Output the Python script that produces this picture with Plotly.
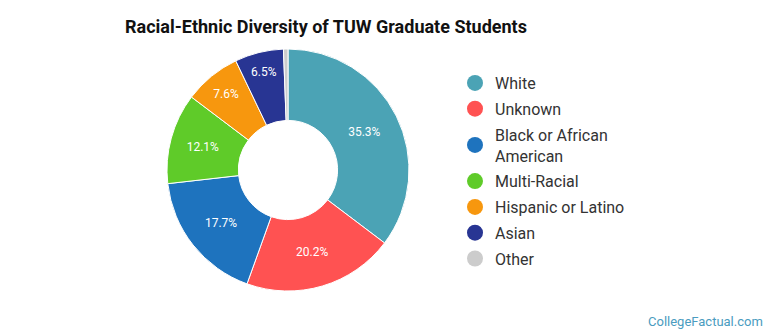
import plotly.graph_objects as go

categories = ["White", "Unknown", "Black or African American", "Multi-Racial",
              "Hispanic or Latino", "Asian", "Other"]
legend_labels = ["White", "Unknown", "Black or African<br>American", "Multi-Racial",
                 "Hispanic or Latino", "Asian", "Other"]
values = [35.3, 20.2, 17.7, 12.1, 7.6, 6.5, 0.6]
colors = ["#4BA3B5", "#FF5252", "#1E73BE", "#5FCB29", "#F7970E", "#283593", "#CCCCCC"]

W, H = 770, 335
cx, cy, r = 288, 170, 121

fig = go.Figure()
fig.add_trace(go.Pie(
    labels=categories, values=values, sort=False, direction="clockwise", rotation=0,
    hole=0.41,
    marker=dict(colors=colors, line=dict(color="white", width=1)),
    text=[f"{v}%" if v > 1 else "" for v in values],
    textinfo="text", textposition="inside", insidetextorientation="horizontal",
    textfont=dict(family="Roboto", size=12, color="white"),
    showlegend=False, hoverinfo="label+percent",
    domain=dict(x=[(cx - r) / W, (cx + r) / W], y=[(H - cy - r) / H, (H - cy + r) / H]),
))
for i, (name, col) in enumerate(zip(legend_labels, colors)):
    fig.add_trace(go.Scatter(x=[None], y=[None], mode="markers", name=name,
                             legendgroup=f"g{i}",
                             marker=dict(symbol="circle", size=16, color=col)))

fig.update_layout(
    width=W, height=H, margin=dict(l=0, r=0, t=0, b=0),
    paper_bgcolor="white", plot_bgcolor="white",
    xaxis=dict(visible=False), yaxis=dict(visible=False),
    font=dict(family="Roboto", color="#333333"),
    title=dict(text="<b>Racial-Ethnic Diversity of TUW Graduate Students</b>",
               x=125 / W, xanchor="left", y=1 - 27 / H, yanchor="middle",
               font=dict(family="Roboto", size=18, color="#111111")),
    legend=dict(x=455 / W, y=1 - 66 / H, xanchor="left", yanchor="top",
                font=dict(family="Roboto", size=16, color="#333333"),
                itemsizing="trace", bgcolor="rgba(0,0,0,0)",
                traceorder="grouped", tracegroupgap=2),
    annotations=[dict(text="CollegeFactual.com", x=1 - 5 / W, y=1 - 321 / H,
                      xref="paper", yref="paper", xanchor="right", yanchor="middle",
                      showarrow=False,
                      font=dict(family="Roboto", size=13, color="#4A9CC0"))],
)
fig.write_html("out.html")
